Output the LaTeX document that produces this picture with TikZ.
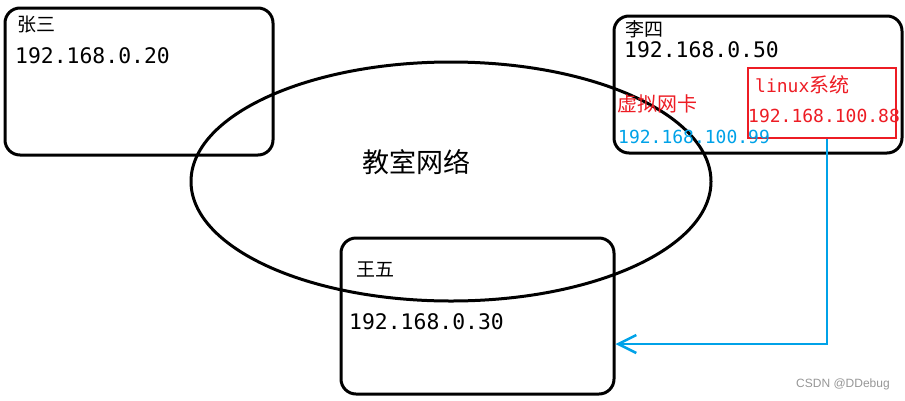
\documentclass[tikz,border=0pt]{standalone}
\usepackage{fontspec}
\newfontfamily\cjk{Noto Sans CJK SC}
\newfontfamily\mono{DejaVu Sans Mono}
\newfontfamily\lib{Liberation Sans}
\usetikzlibrary{shapes.geometric,arrows.meta}
\definecolor{pred}{RGB}{237,28,36}
\definecolor{pblue}{RGB}{0,162,232}
\definecolor{wm}{RGB}{150,150,150}
\tikzset{
  hostbox/.style={draw=black, line width=3pt, rounded corners=15pt, inner sep=0pt},
  redbox/.style={draw=pred, line width=2.2pt, inner sep=0pt},
  txt/.style={inner sep=0pt, anchor=base west},
  cjkname/.style={txt, font=\cjk\fontsize{19}{22}\selectfont},
  bigip/.style={txt, font=\mono\fontsize{21.4}{24}\selectfont},
  smallip/.style={txt, font=\mono\fontsize{18}{21}\selectfont},
  link/.style={draw=pblue, line width=2.5pt, -{Straight Barb[length=18pt,width=18pt,line width=2.5pt]}}
}
\begin{document}
\begin{tikzpicture}[x=1pt,y=-1pt]
\useasboundingbox (0,0) rectangle (905,400);
% hosts
\node[hostbox, minimum width=268pt, minimum height=147pt] (zs) at (139,81.5) {};
\node[hostbox, minimum width=288pt, minimum height=137pt] (ls) at (758,84.5) {};
\node[hostbox, minimum width=273pt, minimum height=156pt] (ww) at (477.5,316) {};
% network
\node[draw, ellipse, line width=3pt, minimum width=520pt, minimum height=239pt, inner sep=0pt] (net) at (451,181.5) {};
% linux box
\node[redbox, minimum width=148pt, minimum height=70pt] (vm) at (822,103) {};
% texts
\node[cjkname] (zsname) at (17,31.5) {张三};
\node[bigip] (zsip) at (15,63) {192.168.0.20};
\node[cjkname] (lsname) at (625,36.5) {李四};
\node[bigip] (lsip) at (624,57) {192.168.0.50};
\node[txt, text=pred, font=\cjk\fontsize{20}{23}\selectfont] (vnic) at (617,111.5) {虚拟网卡};
\node[smallip, text=pblue] (vnicip) at (618,143) {192.168.100.99};
\node[txt, text=pred, font=\fontsize{18}{21}\selectfont] (vmname) at (755,92) {\mono linux\cjk\fontsize{20}{23}\selectfont 系统};
\node[smallip, text=pred] (vmip) at (748,122) {192.168.100.88};
\node[cjkname] (wwname) at (356,276.5) {王五};
\node[bigip] (wwip) at (349,329) {192.168.0.30};
\node[txt, font=\cjk\fontsize{27}{30}\selectfont] (netname) at (362,172.5) {教室网络};
\node[txt, text=wm, font=\lib\fontsize{12}{14}\selectfont] (mark) at (796,387) {CSDN @DDebug};
% connector
\draw[link] ([xshift=5pt]vm.south) |- ([yshift=-28pt]ww.east);
\end{tikzpicture}
\end{document}
